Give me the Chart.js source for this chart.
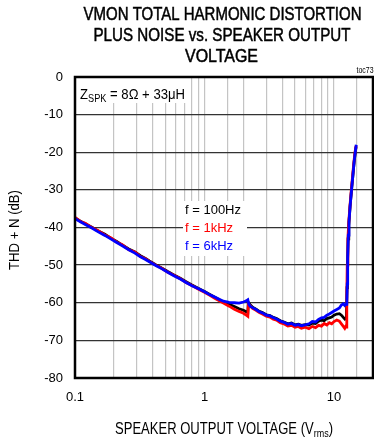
<!DOCTYPE html>
<html>
<head>
<meta charset="utf-8">
<script src="https://cdn.jsdelivr.net/npm/chart.js@4.4.1/dist/chart.umd.min.js"></script>
<style>
  html, body { margin: 0; padding: 0; background: #fff; overflow: hidden; }
  #thdChart { display: block; }
</style>
</head>
<body>
<canvas id="thdChart" width="374" height="439"></canvas>
<script>
// THD+N (dB) against speaker output voltage (Vrms), three test frequencies

const v100 = [0.1, 0.11, 0.12, 0.136, 0.15, 0.17, 0.19, 0.21, 0.23, 0.26, 0.29, 0.32, 0.35, 0.375, 0.42, 0.47, 0.52, 0.58, 0.65, 0.72, 0.8, 0.9, 1.0, 1.1, 1.2, 1.3, 1.4, 1.55, 1.7, 1.85, 2.0, 2.1, 2.16,
  2.18, 2.25, 2.35, 2.5, 2.65, 2.8, 3.0, 3.2, 3.4, 3.6, 3.85, 4.1, 4.4, 4.7, 5.0, 5.3, 5.6, 6.0, 6.4, 6.8, 7.2, 7.6, 8.0, 8.4, 8.8, 9.2, 9.6, 10.0, 10.5, 11.0, 11.4, 11.8, 12.1, 12.35,
  12.45, 12.6, 12.7, 12.85, 13.0, 13.3, 13.7, 14.0, 14.3, 14.6, 14.8];
const thd100 = [-37.5, -38.3, -39.0, -40.0, -40.9, -41.8, -42.9, -43.7, -44.6, -45.7, -46.5, -47.5, -48.2, -48.9, -49.9, -50.8, -51.7, -52.6, -53.5, -54.4, -55.3, -56.2, -57.0, -57.8, -58.5, -59.2, -59.8, -60.4, -61.0, -61.6, -62.0, -62.4, -62.6,
  -59.9, -60.5, -61.2, -61.7, -62.3, -62.6, -63.2, -63.4, -63.9, -64.2, -64.8, -65.1, -65.6, -65.4, -65.9, -65.7, -66.0, -65.8, -65.9, -65.4, -65.5, -64.9, -64.6, -64.8, -64.2, -64.0, -63.8, -63.3, -63.0, -62.9, -63.3, -63.9, -64.3, -64.0,
  -64.2, -56.0, -50.0, -43.0, -39.5, -34.5, -29.5, -26.0, -22.7, -20.0, -18.6];

const v1k = [0.1, 0.11, 0.12, 0.136, 0.15, 0.17, 0.19, 0.21, 0.23, 0.26, 0.29, 0.32, 0.35, 0.375, 0.42, 0.47, 0.52, 0.58, 0.65, 0.72, 0.8, 0.9, 1.0, 1.1, 1.2, 1.3, 1.4, 1.55, 1.7, 1.85, 2.0, 2.1, 2.16,
  2.18, 2.25, 2.35, 2.5, 2.65, 2.8, 3.0, 3.2, 3.4, 3.6, 3.85, 4.1, 4.4, 4.7, 5.0, 5.3, 5.6, 6.0, 6.4, 6.8, 7.2, 7.6, 8.0, 8.4, 8.8, 9.2, 9.6, 10.0, 10.5, 11.0, 11.4, 11.8, 12.1, 12.35,
  12.45, 12.55, 12.65, 12.8, 13.0, 13.3, 13.6, 13.9, 14.2, 14.5, 14.8];
const thd1k = [-37.3, -38.4, -38.9, -40.1, -40.8, -42.0, -42.8, -43.9, -44.5, -45.9, -46.5, -47.7, -48.3, -49.0, -50.0, -50.9, -51.9, -52.7, -53.6, -54.6, -55.4, -56.4, -57.2, -58.0, -58.8, -59.5, -60.1, -60.9, -61.7, -62.3, -62.8, -63.3, -63.6,
  -60.2, -60.8, -61.5, -62.0, -62.6, -63.0, -63.6, -63.8, -64.4, -64.6, -65.3, -65.6, -66.2, -66.0, -66.5, -66.3, -66.8, -66.5, -66.9, -66.3, -66.6, -66.0, -66.2, -65.5, -65.9, -65.3, -65.6, -65.0, -64.6, -64.9, -65.6, -66.3, -66.8, -66.2,
  -66.5, -58.0, -50.0, -43.0, -38.5, -34.0, -30.0, -26.5, -23.0, -20.2, -18.3];

const v6k = [0.1, 0.11, 0.12, 0.136, 0.15, 0.17, 0.19, 0.21, 0.23, 0.26, 0.29, 0.32, 0.35, 0.375, 0.42, 0.47, 0.52, 0.58, 0.65, 0.72, 0.8, 0.9, 1.0, 1.1, 1.2, 1.3, 1.4, 1.55, 1.7, 1.85, 2.0, 2.1, 2.16,
  2.2, 2.25, 2.35, 2.5, 2.65, 2.8, 3.0, 3.2, 3.4, 3.6, 3.85, 4.1, 4.4, 4.7, 5.0, 5.3, 5.6, 6.0, 6.4, 6.8, 7.2, 7.6, 8.0, 8.4, 8.8, 9.2, 9.6, 10.0, 10.5, 11.0, 11.4, 11.8, 12.1, 12.35,
  12.55, 12.65, 12.75, 12.9, 13.05, 13.3, 13.7, 14.0, 14.3, 14.6, 14.85];
const thd6k = [-37.6, -38.5, -39.2, -40.2, -41.1, -42.1, -43.1, -44.0, -44.8, -45.9, -46.8, -47.8, -48.5, -49.1, -50.1, -51.0, -51.9, -52.8, -53.7, -54.6, -55.5, -56.3, -57.1, -57.9, -58.5, -59.1, -59.6, -59.9, -60.0, -60.1, -59.8, -59.5, -59.2,
  -60.4, -60.9, -61.3, -61.8, -62.4, -62.7, -63.3, -63.5, -64.0, -64.3, -64.9, -65.2, -65.7, -65.5, -66.0, -65.8, -66.1, -65.9, -65.6, -65.0, -65.1, -64.4, -64.0, -63.9, -63.3, -63.0, -62.6, -62.2, -61.8, -61.4, -60.6, -60.3, -60.7, -60.4,
  -60.4, -55.0, -48.0, -42.0, -38.5, -34.5, -29.5, -26.0, -22.5, -19.8, -18.0];

const seriesNames = ['f = 100Hz', 'f = 1kHz', 'f = 6kHz'];
const seriesColors = ['#000000', '#ff0000', '#0000ff'];
const xLabels = [0.1, 1, 10];
const yTicks = [0, -10, -20, -30, -40, -50, -60, -70, -80];

const SANS = "'Liberation Sans', Arial, sans-serif";
const NARROW = "'Liberation Sans Narrow', 'Liberation Sans', Arial, sans-serif";

function pts(xs, ys) {
  return xs.map((x, i) => ({ x: x, y: ys[i] }));
}

// text squeezed/stretched horizontally so it spans a given width
function fitText(ctx, text, cx, cy, width, font, color, heavy) {
  ctx.save();
  ctx.font = font;
  ctx.fillStyle = color || '#000';
  ctx.strokeStyle = color || '#000';
  ctx.textAlign = 'center';
  ctx.textBaseline = 'middle';
  const w = ctx.measureText(text).width;
  ctx.translate(cx, cy);
  ctx.scale(width / w, 1);
  ctx.fillText(text, 0, 0);
  if (heavy) { ctx.lineWidth = heavy; ctx.strokeText(text, 0, 0); }
  ctx.restore();
}

// runs of text with subscripts, starting at left on one baseline
function drawRuns(ctx, runs, left, baseline, width, family, color) {
  ctx.save();
  ctx.fillStyle = color || '#000';
  ctx.textAlign = 'left';
  ctx.textBaseline = 'alphabetic';
  let total = 0;
  runs.forEach(r => { ctx.font = r.size + 'px ' + family; total += ctx.measureText(r.t).width; });
  ctx.translate(left, baseline);
  ctx.scale(width ? width / total : 1, 1);
  let x = 0;
  runs.forEach(r => {
    ctx.font = r.size + 'px ' + family;
    ctx.fillText(r.t, x, r.dy || 0);
    x += ctx.measureText(r.t).width;
  });
  ctx.restore();
}

const decor = {
  id: 'decor',
  beforeDatasetsDraw(chart) {
    const ctx = chart.ctx, a = chart.chartArea;
    ctx.save();
    ctx.fillStyle = '#fff';
    ctx.fillRect(a.left, a.top, 186 - a.left, 103 - a.top);   // impedance note
    ctx.fillRect(183, 201, 64, 55);                            // series labels
    ctx.restore();
  },
  afterDraw(chart) {
    const ctx = chart.ctx, a = chart.chartArea;

    // title
    fitText(ctx, 'VMON TOTAL HARMONIC DISTORTION', 222.5, 15.5, 278, '18px ' + NARROW, '#000', 0.5);
    fitText(ctx, 'PLUS NOISE vs. SPEAKER OUTPUT', 222, 36.5, 257, '18px ' + NARROW, '#000', 0.5);
    fitText(ctx, 'VOLTAGE', 221.5, 57.5, 73, '18px ' + NARROW, '#000', 0.5);

    // axis titles
    drawRuns(ctx, [
      { t: 'SPEAKER OUTPUT VOLTAGE (V', size: 16 },
      { t: 'rms', size: 11, dy: 3 },
      { t: ')', size: 16 }
    ], 115, 433.5, 218, NARROW);
    ctx.save();
    ctx.translate(15, 230);
    ctx.rotate(-Math.PI / 2);
    fitText(ctx, 'THD + N (dB)', 0, 0, 80, '14px ' + SANS);
    ctx.restore();

    fitText(ctx, 'toc73', 365, 71, 17, '9px ' + SANS);

    // impedance note
    drawRuns(ctx, [
      { t: 'Z', size: 15 },
      { t: 'SPK', size: 10.5, dy: 2.5 },
      { t: ' = 8Ω + 33μH', size: 15 }
    ], 80, 99.3, 105, SANS);

    // series labels
    const ys = [210, 228.3, 246.7];
    seriesNames.forEach((n, i) => {
      ctx.save();
      ctx.font = '13px ' + SANS;
      ctx.fillStyle = seriesColors[i];
      ctx.textBaseline = 'middle';
      ctx.fillText(n, 185, ys[i]);
      ctx.restore();
    });

    // frame
    ctx.save();
    ctx.strokeStyle = '#000';
    ctx.lineWidth = 2.5;
    ctx.strokeRect(a.left, a.top, a.right - a.left, a.bottom - a.top);
    ctx.restore();
  }
};

const lineStyle = (label, data, color) => ({
  label: label,
  data: data,
  borderColor: color,
  backgroundColor: color,
  borderWidth: 2.8,
  pointRadius: 0,
  tension: 0,
  fill: false
});

new Chart(document.getElementById('thdChart'), {
  type: 'line',
  data: {
    datasets: [
      lineStyle(seriesNames[2], pts(v6k, thd6k), seriesColors[2]),
      lineStyle(seriesNames[1], pts(v1k, thd1k), seriesColors[1]),
      lineStyle(seriesNames[0], pts(v100, thd100), seriesColors[0])
    ]
  },
  options: {
    responsive: false,
    animation: false,
    layout: { padding: { top: 77, right: 1, left: 0, bottom: 0 } },
    plugins: { legend: { display: false }, tooltip: { enabled: false } },
    scales: {
      x: {
        type: 'logarithmic',
        min: 0.1,
        max: 20,
        afterFit(scale) {
          scale.height = 61;
          scale.paddingLeft = 0;
          scale.paddingRight = 0;
        },
        grid: { color: '#c4c4c4', lineWidth: 1.2, drawTicks: false },
        border: { display: false },
        ticks: {
          autoSkip: false,
          maxRotation: 0,
          padding: 12,
          color: '#000',
          font: { family: SANS, size: 13 },
          callback(v) {
            const hit = xLabels.find(l => Math.abs(l - v) < 1e-6 * l);
            return hit !== undefined ? String(hit) : '';
          }
        }
      },
      y: {
        min: -80,
        max: 0,
        afterFit(scale) {
          scale.width = 75;
          scale.paddingTop = 0;
          scale.paddingBottom = 0;
        },
        afterBuildTicks(scale) { scale.ticks = yTicks.map(v => ({ value: v })); },
        grid: { color: '#333', lineWidth: 1.3, drawTicks: false },
        border: { display: false },
        ticks: {
          padding: 12,
          color: '#000',
          font: { family: SANS, size: 13 },
          callback(v) { return String(v); }
        }
      }
    }
  },
  plugins: [decor]
});
</script>
</body>
</html>
